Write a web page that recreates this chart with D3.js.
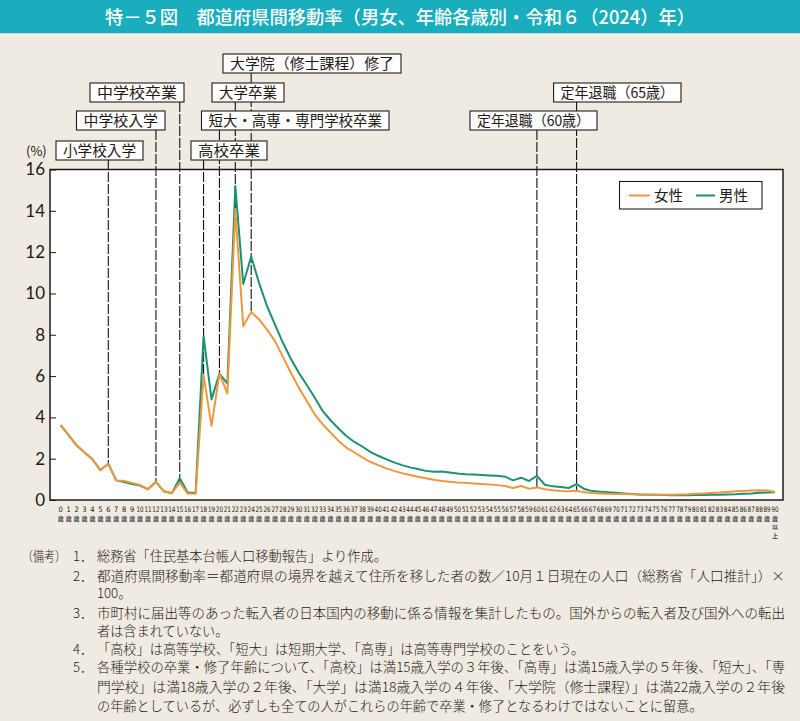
<!DOCTYPE html>
<html><head><meta charset="utf-8">
<script src="https://cdn.jsdelivr.net/npm/d3@7"></script>
<style>
html,body{margin:0;padding:0;background:#f0ebe2;}
svg{display:block;font-family:"Noto Sans CJK JP","Noto Sans",sans-serif;}
</style></head>
<body>
<svg id="c" width="800" height="721"></svg>
<script>
// ---------- DATA ----------
const ages = d3.range(0, 91);
const ageLabels = ages.map(a => String(a));
const female = [3.63,3.14,2.65,2.30,1.97,1.45,1.74,0.95,0.92,0.83,
  0.73,0.52,0.88,0.42,0.33,0.85,0.31,0.30,6.03,3.59,
  6.12,5.15,14.04,8.41,9.10,8.74,8.25,7.69,6.93,6.16,
  5.44,4.79,4.15,3.67,3.27,2.86,2.54,2.30,2.06,1.85,
  1.69,1.53,1.41,1.30,1.21,1.13,1.05,0.98,0.92,0.88,
  0.85,0.83,0.80,0.77,0.75,0.72,0.68,0.58,0.68,0.55,
  0.61,0.52,0.47,0.44,0.42,0.45,0.37,0.34,0.32,0.30,
  0.29,0.29,0.28,0.27,0.27,0.26,0.26,0.26,0.27,0.28,
  0.30,0.32,0.34,0.36,0.39,0.42,0.44,0.46,0.47,0.46,0.39];
const male = [3.63,3.14,2.65,2.30,1.97,1.45,1.74,0.95,0.87,0.77,
  0.70,0.52,0.88,0.42,0.33,1.05,0.36,0.34,7.93,4.87,
  6.12,5.63,15.20,10.46,11.79,10.50,9.38,8.49,7.61,6.84,
  6.16,5.57,4.96,4.31,3.86,3.46,3.10,2.81,2.59,2.33,
  2.14,1.98,1.82,1.69,1.58,1.50,1.41,1.37,1.38,1.33,
  1.28,1.25,1.23,1.21,1.19,1.17,1.13,0.95,1.08,0.92,
  1.17,0.74,0.66,0.63,0.58,0.77,0.53,0.43,0.40,0.37,
  0.35,0.32,0.29,0.27,0.26,0.25,0.24,0.23,0.23,0.23,
  0.24,0.24,0.25,0.26,0.27,0.28,0.30,0.32,0.35,0.36,0.37];
const yTicks = [0,2,4,6,8,10,12,14,16];
const seriesNames = ["女性","男性"];
const eventLabels = ["小学校入学","中学校入学","中学校卒業","高校卒業","短大・高専・専門学校卒業","大学卒業","大学院（修士課程）修了","定年退職（60歳）","定年退職（65歳）"];
const eventAges = [6,12,15,18,20,22,24,60,65];
const titleText = "特－５図　都道府県間移動率（男女、年齢各歳別・令和６（2024）年）";
const noteHead = "（備考）";
const noteNums = ["1．","2．","","3．","","4．","5．","",""];
const noteLines = [
 "総務省「住民基本台帳人口移動報告」より作成。",
 "都道府県間移動率＝都道府県の境界を越えて住所を移した者の数／10月１日現在の人口（総務省「人口推計」）×",
 "100。",
 "市町村に届出等のあった転入者の日本国内の移動に係る情報を集計したもの。国外からの転入者及び国外への転出",
 "者は含まれていない。",
 "「高校」は高等学校、「短大」は短期大学、「高専」は高等専門学校のことをいう。",
 "各種学校の卒業・修了年齢について、「高校」は満15歳入学の３年後、「高専」は満15歳入学の５年後、「短大」、「専",
 "門学校」は満18歳入学の２年後、「大学」は満18歳入学の４年後、「大学院（修士課程）」は満22歳入学の２年後",
 "の年齢としているが、必ずしも全ての人がこれらの年齢で卒業・修了となるわけではないことに留意。"
];

// ---------- LAYOUT ----------
const colF = "#ee983c", colM = "#1b9171", ink = "#231815";
const frame = {l:50, r:783, t:169.5, b:500};
const boxLayout = [ // x0, x1, y0 for each event box
  [56,143,141],[76.5,165,111],[90,184,83],[191,267,141],[201.5,389,111],
  [212,284,83],[223,401,54],[470,597,111],[553.6,681,83]];
const boxH = 19;
const noteY = [561,580.5,598,617.5,635.5,653.5,672,692,711];
const noteFull = [false,true,false,true,false,false,true,true,false];

const svg = d3.select("#c");
svg.append("rect").attr("width",800).attr("height",721).attr("fill","#f0ebe2");
// title bar
svg.append("rect").attr("x",0).attr("y",0).attr("width",800).attr("height",33.5).attr("fill","#19adbd");
svg.append("rect").attr("x",0).attr("y",33.5).attr("width",800).attr("height",3).attr("fill","#f7f4ee");
svg.append("text").attr("x",400).attr("y",24).attr("text-anchor","middle")
  .attr("fill","#fff").attr("font-size",18.5).attr("font-weight",500)
  .attr("textLength",590).attr("lengthAdjust","spacingAndGlyphs").text(titleText);

const x = d3.scaleLinear().domain([0,90]).range([60.7,775]);
const y = d3.scaleLinear().domain([0,16]).range([frame.b, frame.t]);

// plot area
svg.append("rect").attr("x",frame.l).attr("y",frame.t).attr("width",frame.r-frame.l)
  .attr("height",frame.b-frame.t).attr("fill","#fff");

// y axis
const yAxis = d3.axisLeft(y).tickValues(yTicks).tickSize(-6).tickPadding(10).tickFormat(d3.format("d"));
const ga = svg.append("g").attr("transform",`translate(${frame.l},0)`).call(yAxis);
ga.select(".domain").remove();
ga.selectAll(".tick line").attr("stroke",ink).attr("stroke-width",1);
ga.selectAll(".tick text").attr("fill",ink).attr("font-size",17).attr("font-family","Lato, 'Noto Sans', sans-serif").attr("x",-5);
svg.append("text").attr("x",26).attr("y",156).attr("font-size",13).attr("fill",ink).text("(%)");

// x labels
const xl = svg.append("g");
ages.forEach((a,i)=>{
  const g = xl.append("g").attr("transform",`translate(${x(a)},0)`);
  g.append("text").attr("y",512).attr("text-anchor","middle").attr("font-size",7.5)
    .attr("fill",ink).attr("font-family","'Liberation Sans Narrow','DejaVu Sans Condensed',sans-serif")
    .attr("textLength", ageLabels[i].length>1?7.2:null).attr("lengthAdjust","spacingAndGlyphs")
    .text(ageLabels[i]);
  const chars = a===90 ? ["歳","以","上"] : ["歳"];
  chars.forEach((c,j)=>{
    g.append("text").attr("y",520.5+j*8.5).attr("text-anchor","middle").attr("font-size",6)
      .attr("font-weight",700).attr("fill","#444").text(c);
  });
});

// event lines (behind boxes)
const gl = svg.append("g");
eventAges.forEach((a,i)=>{
  const b = boxLayout[i];
  gl.append("line").attr("x1",x(a)).attr("x2",x(a)).attr("y1",b[2]+boxH).attr("y2",y(female[a]))
    .attr("stroke","#111").attr("stroke-width",1.1).attr("stroke-dasharray","10,2");
});

// frame
svg.append("rect").attr("x",frame.l).attr("y",frame.t).attr("width",frame.r-frame.l)
  .attr("height",frame.b-frame.t).attr("fill","none").attr("stroke",ink).attr("stroke-width",1.5);

// series lines
const line = d3.line().x((d,i)=>x(ages[i])).y(d=>y(d));
svg.append("path").datum(male).attr("d",line).attr("fill","none").attr("stroke",colM).attr("stroke-width",2).attr("stroke-linejoin","round");
svg.append("path").datum(female).attr("d",line).attr("fill","none").attr("stroke",colF).attr("stroke-width",2).attr("stroke-linejoin","round");

// event boxes
eventLabels.forEach((t,i)=>{
  const b = boxLayout[i];
  svg.append("rect").attr("x",b[0]).attr("y",b[2]).attr("width",b[1]-b[0]).attr("height",boxH)
    .attr("fill","#fff").attr("stroke",ink).attr("stroke-width",1.1);
  svg.append("text").attr("x",(b[0]+b[1])/2).attr("y",b[2]+boxH/2+5.2).attr("text-anchor","middle")
    .attr("font-size",14.5).attr("fill",ink)
    .attr("textLength",b[1]-b[0]-14).attr("lengthAdjust","spacingAndGlyphs").text(t);
});

// legend
const lg = svg.append("g");
lg.append("rect").attr("x",619.5).attr("y",181.5).attr("width",142.5).attr("height",27.5)
  .attr("fill","#fff").attr("stroke",ink).attr("stroke-width",1.1);
[[629,650,654,colF],[696,715,719,colM]].forEach((p,i)=>{
  lg.append("line").attr("x1",p[0]).attr("x2",p[1]).attr("y1",195.5).attr("y2",195.5).attr("stroke",p[3]).attr("stroke-width",2);
  lg.append("text").attr("x",p[2]).attr("y",200.5).attr("font-size",14.5).attr("fill",ink).text(seriesNames[i]);
});

// notes
const gn = svg.append("g").attr("fill",ink).attr("font-size",13.2).attr("font-weight",300);
gn.append("text").attr("x",22).attr("y",noteY[0]).attr("textLength",44).attr("lengthAdjust","spacingAndGlyphs").text(noteHead);
noteLines.forEach((t,i)=>{
  if(noteNums[i]) gn.append("text").attr("x",73).attr("y",noteY[i]).text(noteNums[i]);
  const tx = gn.append("text").attr("x",97).attr("y",noteY[i]).text(t);
  if(noteFull[i]) tx.attr("textLength",688).attr("lengthAdjust","spacingAndGlyphs");
});
</script>
</body></html>
